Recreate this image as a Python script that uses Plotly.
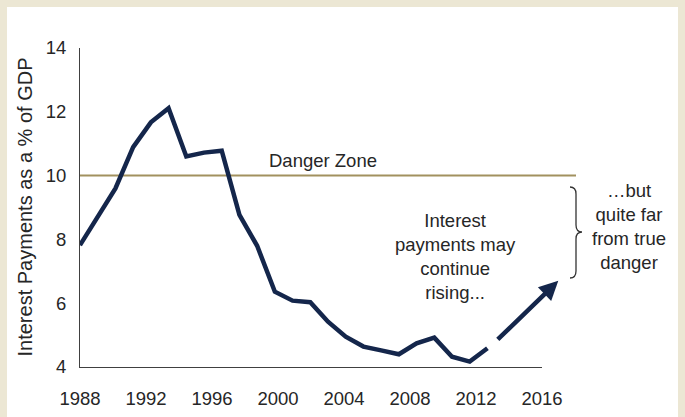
import plotly.graph_objects as go

# Interest payments as a share of GDP, by year
years = list(range(1988, 2012))
interest_pct_gdp = [7.82, 8.70, 9.60, 10.89, 11.67, 12.11, 10.60, 10.72, 10.78,
                    8.77, 7.80, 6.36, 6.08, 6.03, 5.42, 4.95, 4.64, 4.52, 4.40,
                    4.74, 4.92, 4.32, 4.17, 4.59]

# Danger threshold line
danger_years = [1988, 2016]
danger_level = 10

# Projected rise (arrow start / end)
proj_years = [2011.5, 2015]
proj_values = [4.82, 6.70]

x_tick_labels = [str(y) for y in range(1988, 2017, 4)]

W, H = 685, 417
ML, MR, MT, MB = 80, 109, 48, 50
PW, PH = W - ML - MR, H - MT - MB

NAVY = "#14264B"
GOLD = "#A2915F"
BEIGE = "#ECE7D4"
TEXT = "#262626"
FONT = "Liberation Sans, Arial, sans-serif"


def px_x(px):
    return (px - ML) / PW


def px_y(py):
    return (H - MB - py) / PH


fig = go.Figure()

# empty trace so the labelled year axis gets its own subplot
fig.add_trace(go.Scatter(x=[], y=[], xaxis="x", yaxis="y", mode="lines",
                         showlegend=False, hoverinfo="skip"))

fig.add_trace(go.Scatter(
    x=danger_years, y=[danger_level] * len(danger_years), xaxis="x2", yaxis="y",
    mode="lines", line=dict(color=GOLD, width=2), hoverinfo="skip", showlegend=False))

fig.add_trace(go.Scatter(
    x=years, y=interest_pct_gdp, xaxis="x2", yaxis="y",
    mode="lines", line=dict(color=NAVY, width=4.5), showlegend=False))

fig.update_layout(
    xaxis=dict(domain=[0, (542 - ML) / PW], range=[1988, 2016], tickmode="array",
               tickvals=[int(t) for t in x_tick_labels], ticktext=x_tick_labels,
               showline=True, linecolor="#404040", linewidth=1, ticks="",
               showgrid=False, zeroline=False, anchor="y", ticklabelstandoff=15,
               automargin=False,
               tickfont=dict(size=18.5, color=TEXT, family=FONT)),
    xaxis2=dict(domain=[0, 1], range=[1988, 2016], visible=False, anchor="y",
                showgrid=False, zeroline=False, automargin=False),
    yaxis=dict(range=[4, 14], dtick=2, tick0=4, showline=True, linecolor="#404040",
               linewidth=1, ticks="", showgrid=False, zeroline=False, automargin=False,
               ticklabelstandoff=9, tickfont=dict(size=18.5, color=TEXT, family=FONT)),
)

annotations = [
    dict(text="Interest Payments as a % of GDP", xref="paper", yref="paper",
         x=px_x(24), y=0.5, xanchor="center", yanchor="middle", textangle=-90,
         showarrow=False, font=dict(size=20, color=TEXT, family=FONT)),
    dict(text="Danger Zone", xref="paper", yref="paper", x=px_x(322.5), y=px_y(160.5),
         xanchor="center", yanchor="middle", showarrow=False,
         font=dict(size=18.5, color=TEXT, family=FONT)),
    dict(text="Interest<br>payments may<br>continue<br>rising...", xref="paper", yref="paper",
         x=px_x(455), y=px_y(256), xanchor="center", yanchor="middle", align="center",
         showarrow=False, font=dict(size=18.5, color=TEXT, family=FONT)),
    dict(text="…but<br>quite far<br>from true<br>danger", xref="paper", yref="paper",
         x=px_x(629), y=px_y(226), xanchor="center", yanchor="middle", align="center",
         showarrow=False, font=dict(size=18.5, color=TEXT, family=FONT)),
    dict(text="", xref="x2", yref="y", axref="x2", ayref="y",
         x=proj_years[1], y=proj_values[1], ax=proj_years[0], ay=proj_values[0],
         showarrow=True, arrowhead=2, arrowsize=0.85, arrowwidth=4.5, arrowcolor=NAVY,
         standoff=0, startstandoff=0),
]

# curly brace next to the right-hand note
bx, tip = 576, 582
pts = [("M", 570, 187), ("Q", bx, 187, bx, 194), ("L", bx, 225), ("Q", bx, 232, tip, 232),
       ("Q", bx, 232, bx, 239), ("L", bx, 271), ("Q", bx, 278, 570, 278)]
path = ""
for seg in pts:
    cmd, coords = seg[0], seg[1:]
    xy = []
    for i in range(0, len(coords), 2):
        xy.append(f"{px_x(coords[i]):.5f},{px_y(coords[i + 1]):.5f}")
    path += cmd + " " + " ".join(xy) + " "

frame = dict(type="rect", xref="paper", yref="paper", fillcolor=BEIGE,
             line=dict(width=0), layer="below")
shapes = [
    # beige frame: left, top, right bands
    dict(frame, x0=px_x(0), x1=px_x(7), y0=px_y(H + 5), y1=px_y(0)),
    dict(frame, x0=px_x(0), x1=px_x(W), y0=px_y(7), y1=px_y(0)),
    dict(frame, x0=px_x(678), x1=px_x(W), y0=px_y(H + 5), y1=px_y(0)),
    # white card continues to the bottom edge
    dict(type="rect", xref="paper", yref="paper", x0=px_x(7), x1=px_x(678),
         y0=px_y(H + 5), y1=px_y(406), fillcolor="white", line=dict(width=0),
         layer="above"),
    dict(type="path", xref="paper", yref="paper", path=path.strip(),
         line=dict(color="#333333", width=1.3)),
]

fig.update_layout(
    width=W, height=H, margin=dict(l=ML, r=MR, t=MT, b=MB, pad=0, autoexpand=False),
    paper_bgcolor="white", plot_bgcolor="rgba(0,0,0,0)",
    annotations=annotations, shapes=shapes, showlegend=False,
    font=dict(family=FONT, color=TEXT),
)

fig.write_html("out.html")
